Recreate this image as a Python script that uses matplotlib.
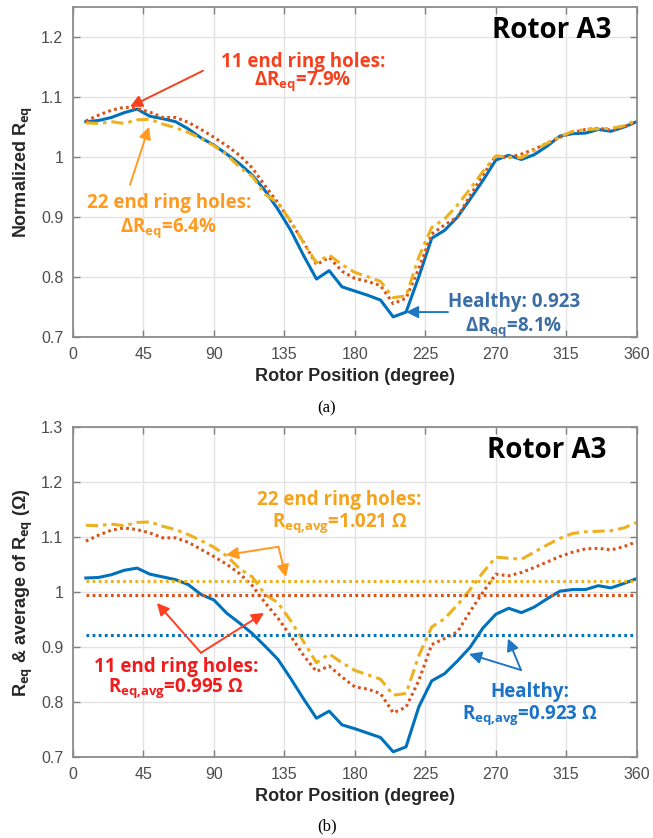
import matplotlib
matplotlib.use("Agg")
import matplotlib.pyplot as plt
import numpy as np

plt.rcParams['font.family'] = ['Liberation Sans', 'DejaVu Sans']
plt.rcParams['mathtext.fontset'] = 'custom'
plt.rcParams['mathtext.rm'] = 'Open Sans'
plt.rcParams['mathtext.it'] = 'Open Sans:italic'
plt.rcParams['mathtext.bf'] = 'Open Sans:bold'

# rotor positions (44 bars, one point per bar pitch)
position = [8.2, 16.4, 24.5, 32.7, 40.9, 49.1, 57.3, 65.5, 73.6, 81.8, 90.0,
            98.2, 106.4, 114.5, 122.7, 130.9, 139.1, 147.3, 155.5, 163.6, 171.8, 180.0,
            188.2, 196.4, 204.5, 212.7, 220.9, 229.1, 237.3, 245.5, 253.6, 261.8, 270.0,
            278.2, 286.4, 294.5, 302.7, 310.9, 319.1, 327.3, 335.5, 343.6, 351.8, 360.0]

# (a) normalized Req
norm_healthy = [1.059, 1.061, 1.066, 1.074, 1.080, 1.068, 1.064, 1.059, 1.047, 1.032, 1.020,
                1.005, 0.989, 0.970, 0.944, 0.913, 0.878, 0.836, 0.797, 0.811, 0.784, 0.777,
                0.770, 0.762, 0.734, 0.742, 0.801, 0.865, 0.878, 0.900, 0.930, 0.961, 0.995,
                1.003, 0.996, 1.004, 1.018, 1.035, 1.039, 1.040, 1.046, 1.043, 1.050, 1.059]
norm_11holes = [1.060, 1.070, 1.078, 1.083, 1.081, 1.075, 1.066, 1.066, 1.058, 1.046, 1.033,
                1.019, 1.003, 0.982, 0.952, 0.924, 0.892, 0.858, 0.821, 0.833, 0.810, 0.798,
                0.793, 0.786, 0.756, 0.765, 0.815, 0.872, 0.887, 0.900, 0.936, 0.970, 1.002,
                0.999, 1.005, 1.013, 1.023, 1.033, 1.041, 1.046, 1.048, 1.045, 1.050, 1.059]
norm_22holes = [1.057, 1.056, 1.059, 1.056, 1.062, 1.063, 1.055, 1.049, 1.041, 1.031, 1.019,
                1.004, 0.983, 0.968, 0.938, 0.924, 0.893, 0.857, 0.824, 0.837, 0.821, 0.808,
                0.801, 0.793, 0.766, 0.769, 0.834, 0.883, 0.897, 0.920, 0.947, 0.976, 1.002,
                1.000, 0.999, 1.011, 1.023, 1.034, 1.043, 1.046, 1.047, 1.048, 1.052, 1.062]

# (b) Req in ohm
req_healthy = [1.026, 1.027, 1.032, 1.040, 1.044, 1.033, 1.028, 1.023, 1.014, 0.996, 0.986,
               0.962, 0.944, 0.925, 0.902, 0.878, 0.843, 0.806, 0.771, 0.784, 0.759, 0.752,
               0.744, 0.736, 0.710, 0.719, 0.792, 0.839, 0.852, 0.875, 0.900, 0.935, 0.960,
               0.971, 0.963, 0.973, 0.988, 1.002, 1.005, 1.005, 1.012, 1.008, 1.016, 1.025]
req_11holes = [1.093, 1.104, 1.113, 1.117, 1.114, 1.108, 1.099, 1.099, 1.091, 1.078, 1.065,
               1.051, 1.034, 1.012, 0.981, 0.953, 0.920, 0.885, 0.856, 0.866, 0.846, 0.828,
               0.824, 0.816, 0.781, 0.791, 0.840, 0.905, 0.916, 0.928, 0.965, 1.000, 1.033,
               1.030, 1.036, 1.045, 1.055, 1.065, 1.073, 1.079, 1.080, 1.077, 1.083, 1.092]
req_22holes = [1.122, 1.121, 1.124, 1.121, 1.127, 1.128, 1.120, 1.114, 1.105, 1.094, 1.082,
               1.066, 1.043, 1.028, 0.996, 0.981, 0.948, 0.910, 0.872, 0.888, 0.872, 0.858,
               0.850, 0.842, 0.813, 0.816, 0.885, 0.937, 0.952, 0.977, 1.005, 1.036, 1.064,
               1.062, 1.060, 1.073, 1.086, 1.098, 1.107, 1.110, 1.111, 1.112, 1.117, 1.127]
avg_healthy = 0.923
avg_11holes = 0.995
avg_22holes = 1.021

c_blue = '#0072BD'
c_red = '#D95319'
c_yel = '#EDB120'
dotted = (0, (0.9, 1.1))
dashdot = (0, (4, 1.6, 1.2, 1.6))

fig = plt.figure(figsize=(6.53, 8.38), dpi=100)
ax1 = fig.add_axes([0.1118, 0.5975, 0.8632, 0.3942])
ax2 = fig.add_axes([0.1118, 0.0963, 0.8632, 0.3938])

def style_axes(ax, ylo, yhi, yticks, yticklabels):
    ax.set_xlim(0, 360)
    ax.set_ylim(ylo, yhi)
    ax.set_xticks(np.arange(0, 361, 45))
    ax.set_yticks(yticks)
    ax.set_yticklabels(yticklabels)
    ax.grid(True, color='#E3E3E3', lw=1)
    ax.set_axisbelow(True)
    ax.tick_params(direction='in', top=True, right=True, length=5, width=1,
                   colors='#808080', labelcolor='#4D4D4D', labelsize=11.5, pad=7)
    for s in ax.spines.values():
        s.set_color('#8C8C8C')
        s.set_linewidth(1.3)
    ax.set_xlabel('Rotor Position (degree)', fontsize=13, fontweight='bold',
                  color='#262626', labelpad=4)

def arrow(ax, tip, tail, color):
    ax.annotate('', xy=tip, xytext=tail,
                arrowprops=dict(arrowstyle='-|>', color=color, lw=1.4, mutation_scale=18,
                                shrinkA=0, shrinkB=0))

# ---- (a)
ax1.plot(position, norm_healthy, '-', color=c_blue, lw=2.2)
ax1.plot(position, norm_11holes, linestyle=dotted, color=c_red, lw=2.2)
ax1.plot(position, norm_22holes, linestyle=dashdot, color=c_yel, lw=2.2)
style_axes(ax1, 0.7, 1.25, [0.7, 0.8, 0.9, 1.0, 1.1, 1.2], ['0.7', '0.8', '0.9', '1', '1.1', '1.2'])
ax1.set_ylabel(r'Normalized R$_{\mathbf{eq}}$', fontsize=13, fontweight='bold', color='#262626')

tfont = dict(family=['Open Sans', 'DejaVu Sans'], fontweight='bold', fontsize=13.5, ha='center', va='center')
ax1.text(306, 1.2105, 'Rotor A3', family=['Open Sans', 'DejaVu Sans'], fontweight='bold',
         fontsize=20, ha='center', va='center')
ax1.text(146.9, 1.1588, '11 end ring holes:', color='#F5411E', **tfont)
ax1.text(146.9, 1.1255, r'ΔR$_{\mathbf{eq}}$=7.9%', color='#F5411E', **tfont)
arrow(ax1, (36.4, 1.0838), (83, 1.1438), '#F5411E')
ax1.text(61.3, 0.9238, '22 end ring holes:', color='#FF9A1F', **tfont)
ax1.text(60.7, 0.882, r'ΔR$_{\mathbf{eq}}$=6.4%', color='#FF9A1F', **tfont)
arrow(ax1, (48.5, 1.0505), (36.4, 0.954), '#FF9A1F')
ax1.text(281.6, 0.7588, 'Healthy: 0.923', color='#3B6EA5', **tfont)
ax1.text(281.6, 0.7172, r'ΔR$_{\mathbf{eq}}$=8.1%', color='#3B6EA5', **tfont)
arrow(ax1, (212.7, 0.742), (239.5, 0.742), '#1F77C4')

# ---- (b)
x_avg = [position[0], position[-1]]
ax2.plot(position, req_healthy, '-', color=c_blue, lw=2.2)
ax2.plot(position, req_11holes, linestyle=dotted, color=c_red, lw=2.2)
ax2.plot(position, req_22holes, linestyle=dashdot, color=c_yel, lw=2.2)
ax2.plot(x_avg, [avg_healthy] * 2, linestyle=dotted, color=c_blue, lw=2.2)
ax2.plot(x_avg, [avg_11holes] * 2, linestyle=dotted, color=c_red, lw=2.2)
ax2.plot(x_avg, [avg_22holes] * 2, linestyle=dotted, color=c_yel, lw=2.2)
style_axes(ax2, 0.7, 1.3, [0.7, 0.8, 0.9, 1.0, 1.1, 1.2, 1.3],
           ['0.7', '0.8', '0.9', '1', '1.1', '1.2', '1.3'])
ax2.set_ylabel(r'R$_{\mathbf{eq}}$ & average of R$_{\mathbf{eq}}$ (Ω)', fontsize=13,
               fontweight='bold', color='#262626')

ax2.text(302.7, 1.2587, 'Rotor A3', family=['Open Sans', 'DejaVu Sans'], fontweight='bold',
         fontsize=20, ha='center', va='center')
ax2.text(169.9, 1.1678, '22 end ring holes:', color='#F5A21C', **tfont)
ax2.text(170.5, 1.126, r'R$_{\mathbf{eq{,}avg}}$=1.021 Ω', color='#F5A21C', **tfont)
arrow(ax2, (97.7, 1.0678), (131.2, 1.0829), '#FF9A1F')
arrow(ax2, (136.0, 1.0278), (131.2, 1.0829), '#FF9A1F')
ax2.text(65.8, 0.8642, '11 end ring holes:', color='#F21B1B', **tfont)
ax2.text(65.8, 0.826, r'R$_{\mathbf{eq{,}avg}}$=0.995 Ω', color='#F21B1B', **tfont)
arrow(ax2, (53.6, 0.9805), (81.7, 0.890), '#FF3F1F')
arrow(ax2, (122.0, 0.9624), (81.7, 0.890), '#FF3F1F')
ax2.text(291.9, 0.8188, 'Healthy:', color='#1A73C6', **tfont)
ax2.text(291.9, 0.777, r'R$_{\mathbf{eq{,}avg}}$=0.923 Ω', color='#1A73C6', **tfont)
arrow(ax2, (252.9, 0.8878), (286.1, 0.8587), '#1F77C4')
arrow(ax2, (277.8, 0.916), (286.1, 0.8587), '#1F77C4')

fig.text(327 / 653, 1 - 408 / 838, '(a)', family='Liberation Serif', fontsize=12,
         ha='center', va='center')
fig.text(327 / 653, 1 - 826 / 838, '(b)', family='Liberation Serif', fontsize=12,
         ha='center', va='center')

fig.savefig('out.png', dpi=100)
